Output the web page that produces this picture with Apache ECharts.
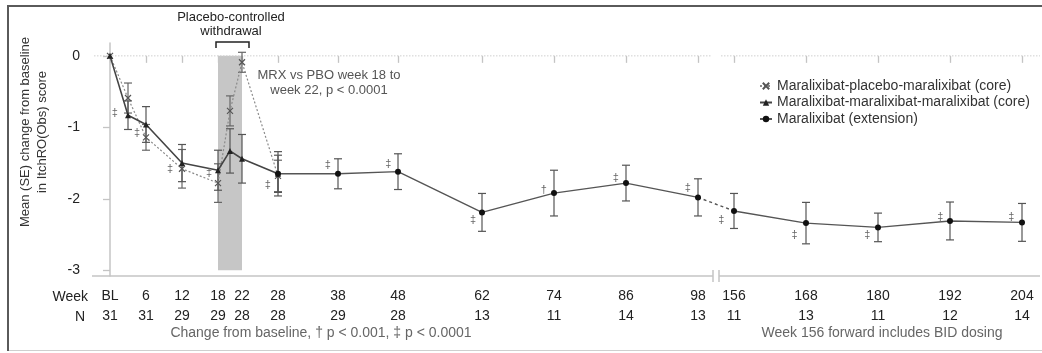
<!DOCTYPE html>
<html><head><meta charset="utf-8">
<script src="https://cdn.jsdelivr.net/npm/echarts@6/dist/echarts.min.js"></script>
<style>html,body{margin:0;padding:0;background:#fff}#c{width:1042px;height:353px}</style>
</head><body><div id="c"></div>
<script>
// ---------- data ----------
const tickWeeks  = [0,6,12,18,22,28,38,48,62,74,86,98,156,168,180,192,204];
const tickLabels = ['BL','6','12','18','22','28','38','48','62','74','86','98','156','168','180','192','204'];
const tickN      = ['31','31','29','29','28','28','29','28','13','11','14','13','11','13','11','12','14'];

const mpmWeeks = [0,3,6,12,18,20,22,28];
const mpmMean  = [0,-0.59,-1.14,-1.58,-1.78,-0.77,-0.09,-1.68];
const mpmSE    = [0,0.21,0.18,0.27,0.27,0.21,0.14,0.22];

const mmmWeeks = [0,3,6,12,18,20,22,28];
const mmmMean  = [0,-0.83,-0.96,-1.50,-1.60,-1.33,-1.44,-1.65];
const mmmSE    = [0,0.20,0.25,0.26,0.28,0.31,0.34,0.26];

const extWeeks = [28,38,48,62,74,86,98,156,168,180,192,204];
const extMean  = [-1.65,-1.65,-1.62,-2.19,-1.92,-1.78,-1.98,-2.17,-2.34,-2.40,-2.31,-2.33];
const extSE    = [0.31,0.21,0.25,0.265,0.32,0.25,0.26,0.245,0.29,0.20,0.265,0.265];

const sigWeeks  = [0.8,4.5,10,16.5,26.3,36.3,46.4,60.5,72.3,84.3,96.3,153.9,166.1,178.2,190.4,202.2];
const sigValues = [-0.80,-1.08,-1.58,-1.64,-1.80,-1.53,-1.51,-2.30,-1.87,-1.71,-1.85,-2.30,-2.51,-2.51,-2.26,-2.26];
const sigText   = ['‡','‡','‡','‡','‡','‡','‡','‡','†','‡','‡','‡','‡','‡','‡','‡'];

const withdrawal = [18, 22];
const names = ['Maralixibat-placebo-maralixibat (core)','Maralixibat-maralixibat-maralixibat (core)','Maralixibat (extension)'];

// ---------- axis break mapping ----------
const breakFrom = 98, breakTo = 156, breakShift = 52; // 156 -> 104
const pos = w => (w > (breakFrom + breakTo) / 2 ? w - breakShift : w);
const breakL = 100.5, breakR = 101.5;
const xMin = -3, xMax = 155, yMin = -3.08, yMax = 0.18;

const FONT = '"Liberation Sans", Arial, sans-serif';
const chart = echarts.init(document.getElementById('c'), null, {renderer:'canvas'});

function pts(weeks, mean){ return weeks.map((w,i)=>[pos(w), mean[i]]); }

function errSeries(weeks, mean, se, color){
  return {
    type:'custom', silent:true, z:3,
    data: weeks.map((w,i)=>[pos(w), mean[i]-se[i], mean[i]+se[i]]).filter((d,i)=>se[i]>0),
    encode:{x:0, y:[1,2]},
    renderItem(p, api){
      const x = api.value(0);
      const lo = api.coord([x, api.value(1)]);
      const hi = api.coord([x, api.value(2)]);
      const hw = 4, st = {stroke:color, lineWidth:1.2};
      return {type:'group', children:[
        {type:'line', shape:{x1:lo[0],y1:lo[1],x2:hi[0],y2:hi[1]}, style:st},
        {type:'line', shape:{x1:lo[0]-hw,y1:lo[1],x2:lo[0]+hw,y2:lo[1]}, style:st},
        {type:'line', shape:{x1:hi[0]-hw,y1:hi[1],x2:hi[0]+hw,y2:hi[1]}, style:st}
      ]};
    }
  };
}

const crossPath = 'path://M0,0L10,10M10,0L0,10';
const nb = extWeeks.findIndex(w => w >= breakTo);

const series = [
  // shaded withdrawal period
  {type:'custom', silent:true, z:1, data:[[withdrawal[0], withdrawal[1]]],
   renderItem(p, api){
     const a = api.coord([api.value(0), 0]);
     const b = api.coord([api.value(1), -3]);
     return {type:'rect', shape:{x:a[0], y:a[1], width:b[0]-a[0], height:b[1]-a[1]}, style:{fill:'#c6c6c6'}};
   }},
  // axis line with break, zero reference line
  {type:'custom', silent:true, z:2, data:[[0]],
   renderItem(p, api){
     const y0 = api.coord([xMin, yMin])[1];
     const z0 = api.coord([xMin, 0])[1];
     const xa = api.coord([xMin, 0])[0], xb = api.coord([breakL, 0])[0];
     const xc = api.coord([breakR, 0])[0], xd = api.coord([xMax, 0])[0];
     const ax = {stroke:'#c4c4c4', lineWidth:1.5};
     const zl = {stroke:'#cfcfcf', lineWidth:1, lineDash:[1.5,1.5]};
     return {type:'group', children:[
       {type:'line', shape:{x1:xa,y1:y0,x2:xb,y2:y0}, style:ax},
       {type:'line', shape:{x1:xc,y1:y0,x2:xd,y2:y0}, style:ax},
       {type:'line', shape:{x1:xb,y1:y0-6,x2:xb,y2:y0+6}, style:ax},
       {type:'line', shape:{x1:xc,y1:y0-6,x2:xc,y2:y0+6}, style:ax},
       {type:'line', shape:{x1:xa+2,y1:z0,x2:xb-2,y2:z0}, style:zl},
       {type:'line', shape:{x1:xc+2,y1:z0,x2:xd,y2:z0}, style:zl}
     ]};
   }},
  errSeries(mpmWeeks, mpmMean, mpmSE, '#666'),
  errSeries(mmmWeeks, mmmMean, mmmSE, '#555'),
  errSeries(extWeeks, extMean, extSE, '#555'),
  {type:'line', name:names[0], z:4, data:pts(mpmWeeks, mpmMean), symbol:crossPath, symbolSize:6,
   itemStyle:{color:'#666', borderColor:'#555', borderWidth:1.2},
   lineStyle:{color:'#8a8a8a', width:1.2, type:[2,2]}, animation:false},
  {type:'line', name:names[1], z:5, data:pts(mmmWeeks, mmmMean), symbol:'triangle', symbolSize:6,
   itemStyle:{color:'#222'}, lineStyle:{color:'#444', width:1.6}, animation:false},
  {type:'line', name:names[2], z:5, data:pts(extWeeks.slice(0,nb), extMean.slice(0,nb)), symbol:'circle', symbolSize:6,
   itemStyle:{color:'#111'}, lineStyle:{color:'#555', width:1.4}, animation:false},
  {type:'line', name:'ext-gap', z:4, data:pts(extWeeks.slice(nb-1,nb+1), extMean.slice(nb-1,nb+1)), symbol:'none',
   lineStyle:{color:'#555', width:1.4, type:[3,3]}, animation:false, silent:true},
  {type:'line', name:names[2], z:5, data:pts(extWeeks.slice(nb), extMean.slice(nb)), symbol:'circle', symbolSize:6,
   itemStyle:{color:'#111'}, lineStyle:{color:'#555', width:1.4}, animation:false},
  // significance markers
  {type:'custom', silent:true, z:6, data: sigWeeks.map((w,i)=>[pos(w), sigValues[i], i]),
   renderItem(p, api){
     const c = api.coord([api.value(0), api.value(1)]);
     return {type:'text', x:c[0], y:c[1], style:{text:sigText[api.value(2)], fill:'#666', font:'11px '+FONT, align:'center', verticalAlign:'middle'}};
   }}
];

const tickPos = tickWeeks.map(pos);

chart.setOption({
  animation:false,
  backgroundColor:'#fff',
  textStyle:{fontFamily:FONT},
  grid:{left:92, right:2, top:43, bottom:77, containLabel:false, outerBoundsMode:'none'},
  xAxis:{type:'value', min:xMin, max:xMax,
    axisLine:{show:false},
    splitLine:{show:false},
    axisTick:{show:true, length:7, customValues:tickPos, lineStyle:{color:'#c4c4c4', width:1.3}},
    axisLabel:{customValues:tickPos, fontSize:14, lineHeight:20, color:'#222', margin:10,
      formatter:v=>{const i=tickPos.indexOf(v); return i<0?'':tickLabels[i]+'\n'+tickN[i];}}
  },
  yAxis:{type:'value', min:yMin, max:yMax,
    axisLine:{show:true, lineStyle:{color:'#c4c4c4', width:1.5}},
    splitLine:{show:false},
    axisTick:{show:true, length:7, customValues:[0,-1,-2,-3], lineStyle:{color:'#c4c4c4', width:1.3}},
    axisLabel:{customValues:[0,-1,-2,-3], fontSize:14, color:'#222', margin:12, formatter:v=>String(v)}
  },
  legend:{orient:'vertical', left:754, top:74, itemGap:2.5, itemWidth:12, itemHeight:8,
    data:names, textStyle:{fontSize:14, color:'#333', fontFamily:FONT}, selectedMode:false},
  series,
  graphic:[
    {type:'rect', left:7, top:5, shape:{width:1035, height:2}, style:{fill:'#5a5a5a'}, silent:true},
    {type:'rect', left:7, top:5, shape:{width:2, height:346}, style:{fill:'#5a5a5a'}, silent:true},
    {type:'rect', left:9, top:350, shape:{width:1033, height:1}, style:{fill:'#cfcfcf'}, silent:true},
    {type:'text', x:231, y:24, style:{text:'Placebo-controlled\nwithdrawal', font:'13px '+FONT, fill:'#222', align:'center', verticalAlign:'middle', lineHeight:14}},
    {type:'polyline', shape:{points:[[216,48],[216,42],[249,42],[249,48]]}, style:{stroke:'#222', lineWidth:1.5, fill:null}},
    {type:'text', x:329, y:83, style:{text:'MRX vs PBO week 18 to\nweek 22, p < 0.0001', font:'13px '+FONT, fill:'#555', align:'center', verticalAlign:'middle', lineHeight:15}},
    {type:'text', x:34, y:132, rotation:Math.PI/2, style:{text:'Mean (SE) change from baseline\nin ItchRO(Obs) score', font:'13px '+FONT, fill:'#333', align:'center', verticalAlign:'middle', lineHeight:17}},
    {type:'text', x:88, y:297, style:{text:'Week', font:'14px '+FONT, fill:'#222', align:'right', verticalAlign:'middle'}},
    {type:'text', x:85, y:317, style:{text:'N', font:'14px '+FONT, fill:'#222', align:'right', verticalAlign:'middle'}},
    {type:'text', x:321, y:333, style:{text:'Change from baseline, † p < 0.001, ‡ p < 0.0001', font:'14px '+FONT, fill:'#666', align:'center', verticalAlign:'middle'}},
    {type:'text', x:882, y:333, style:{text:'Week 156 forward includes BID dosing', font:'14px '+FONT, fill:'#666', align:'center', verticalAlign:'middle'}}
  ]
});
</script></body></html>
